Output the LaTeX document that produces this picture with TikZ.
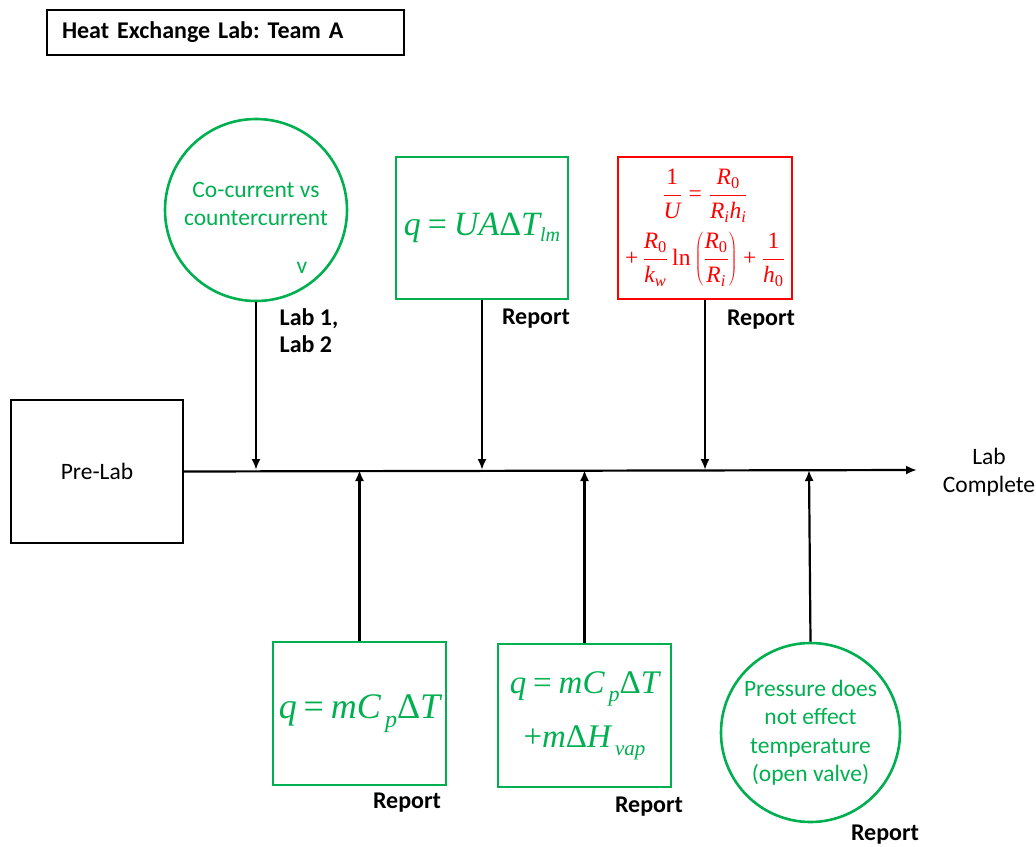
\documentclass[tikz,border=0pt]{standalone}
\usepackage{fontspec}
\setmainfont{Carlito}
\newfontfamily\tms{Liberation Serif}
\usetikzlibrary{arrows.meta}
\definecolor{grn}{RGB}{0,176,80}
\definecolor{rd}{RGB}{255,0,0}
% formula helpers: italic / upright Times letters and a small subscript
\newcommand\mi[1]{\mbox{\tms\itshape #1}}
\newcommand\mr[1]{\mbox{\tms #1}}
\newcommand\sbs[1]{\textsubscript{\tms\itshape #1}}
\newcommand\sbr[1]{\textsubscript{\tms #1}}
% lowered subscript of a given size
\newcommand\low[3]{\mbox{\tms\itshape\raisebox{-#1}{\fontsize{#2}{#2}\selectfont #3}}}
\tikzset{
  base/.style={font=\fontsize{23.5}{28.5}\selectfont},
  rep/.style={font=\bfseries\fontsize{24}{27}\selectfont},
  gbox/.style={draw=grn, line width=2.6pt, inner sep=0pt, text=grn},
  gcirc/.style={draw=grn, line width=2.6pt, circle, inner sep=0pt, text=grn, align=center, base},
  arr/.style={line width=2.2pt, -{Latex[length=11pt,width=9pt]}},
}
\begin{document}
\begin{tikzpicture}[x=1pt, y=-1pt]
\useasboundingbox (0,0) rectangle (1036,846);

% title
\node[draw, line width=1.3pt, minimum height=45pt, text width=327pt, inner xsep=15pt, align=left,
      font=\bfseries\fontsize{24}{26}\selectfont] (title) at (225.5,32.5) {Heat Exchange\ Lab:\ Team\ A};

% start and end of the time line
\node[draw, line width=1.3pt, minimum width=172pt, minimum height=143pt, base] (pre) at (97,471.5) {Pre-Lab};
\coordinate (end) at (917,470);
\node[base, align=center] (done) at (989,472) {Lab\\Complete};

% junctions on the time line
\coordinate (j1) at (256,470);
\coordinate (j2) at (482,470);
\coordinate (j3) at (705,470);
\coordinate (b1) at (359.5,470);
\coordinate (b2) at (584.5,470);
\coordinate (b3) at (809,470);

% upper items
\node[gcirc, minimum size=182pt] (cc) at (256,210) {Co-current vs\\countercurrent\\[-16.5pt]\mbox{}};
\node[base, text=grn] (v) at (302,268) {v};
\node[gbox, minimum width=172pt, minimum height=142pt, font=\fontsize{34}{40}\selectfont] (ua) at (482,228)
  {$\mi{q}\mathrel{\mr{=}}\mi{UA}\mr{Δ}\mi{T}\low{6pt}{20}{lm}$};
\node[draw=rd, line width=2.6pt, inner sep=0pt, text=rd, minimum width=174pt, minimum height=142pt,
      align=center, font=\fontsize{23.5}{26}\selectfont] (ru) at (705,228)
  {$\displaystyle\frac{\mr{1}}{\mi{U}}\mathrel{\mr{=}}\frac{\mi{R}\sbr{0}}{\mi{R}\sbs{i}\mi{h}\sbs{i}}$\\[9pt]
   $\displaystyle\mr{+}\,\frac{\mi{R}\sbr{0}}{\mi{k}\sbs{w}}\,\mr{ln}\left(\frac{\mi{R}\sbr{0}}{\mi{R}\sbs{i}}\right)\mathbin{\mr{+}}\frac{\mr{1}}{\mi{h}\sbr{0}}$};

% lower items
\node[gbox, minimum width=173pt, minimum height=143pt, font=\fontsize{36}{40}\selectfont] (mc) at (359.5,713.5)
  {$\mi{q}\mathrel{\mr{=}}\mi{mC}\,\low{9pt}{24}{p}\mr{Δ}\mi{T}$};
\node[gbox, minimum width=173pt, minimum height=143pt, align=center, font=\fontsize{33}{40}\selectfont] (mh) at (584.5,715.5)
  {$\mi{q}\mathrel{\mr{=}}\mi{mC}\,\low{8pt}{22}{p}\mr{Δ}\mi{T}$\\[14pt]
   $\mr{+}\mi{m}\mr{Δ}\mi{H}\,\low{8pt}{21}{vap}$};
\node[gcirc, minimum size=179pt] (pr) at (810.5,732.5) {Pressure does\\not effect\\temperature\\(open valve)};

% labels
\node[rep, align=left] (l12) at (309,331) {Lab 1,\\Lab 2};
\node[rep] (r1) at (536,319) {Report};
\node[rep] (r2) at (761,320) {Report};
\node[rep] (r3) at (407,803) {Report};
\node[rep] (r4) at (649,807) {Report};
\node[rep] (r5) at (885,835) {Report};

% connectors
\draw[arr] (pre.east) -- (end);
\draw[arr] (cc.south) -- (j1);
\draw[arr] (ua.south) -- (j2);
\draw[arr] (ru.south) -- (j3);
\draw[arr] (mc.north) -- (b1);
\draw[arr] (mh.north) -- (b2);
\draw[arr] (pr.north) -- (b3);
\end{tikzpicture}
\end{document}
